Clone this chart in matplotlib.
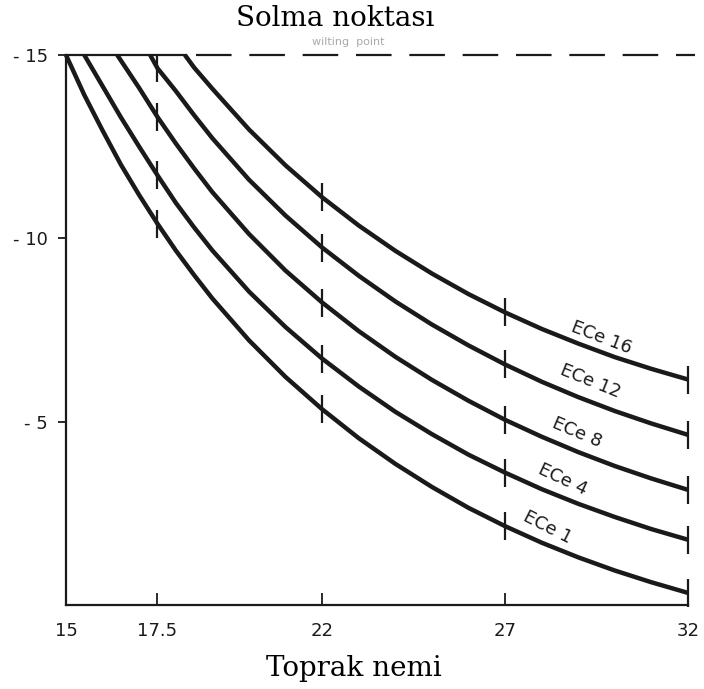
import matplotlib
matplotlib.use('Agg')
import matplotlib.pyplot as plt

# Toprak nemi (x) ve su potansiyeli (y)
ece1_x = [15, 15.5, 16, 16.5, 17, 17.5, 18, 18.5, 19, 20, 21, 22, 23, 24, 25, 26, 27, 28, 29, 30, 31, 32]
ece1_y = [-15, -13.91, -12.94, -12.01, -11.18, -10.4, -9.67, -9.0, -8.36, -7.22, -6.22, -5.34,
          -4.55, -3.85, -3.22, -2.65, -2.15, -1.7, -1.3, -0.94, -0.62, -0.33]

ece4_x = [15.5, 16, 16.5, 17, 17.5, 18, 18.5, 19, 20, 21, 22, 23, 24, 25, 26, 27, 28, 29, 30, 31, 32]
ece4_y = [-15, -14.15, -13.3, -12.5, -11.72, -10.97, -10.3, -9.67, -8.55, -7.58, -6.72, -5.96,
          -5.27, -4.66, -4.1, -3.61, -3.16, -2.76, -2.4, -2.07, -1.78]

ece8_x = [16.4, 17, 17.5, 18, 18.5, 19, 20, 21, 22, 23, 24, 25, 26, 27, 28, 29, 30, 31, 32]
ece8_y = [-15, -14.1, -13.31, -12.59, -11.91, -11.26, -10.12, -9.12, -8.25, -7.47, -6.77,
          -6.14, -5.57, -5.05, -4.59, -4.17, -3.79, -3.45, -3.14]

ece12_x = [17.3, 17.5, 18, 18.5, 19, 20, 21, 22, 23, 24, 25, 26, 27, 28, 29, 30, 31, 32]
ece12_y = [-15, -14.64, -14.02, -13.36, -12.73, -11.6, -10.62, -9.75, -8.98, -8.28, -7.65,
           -7.08, -6.56, -6.09, -5.67, -5.29, -4.95, -4.64]

ece16_x = [18.25, 18.5, 19, 20, 21, 22, 23, 24, 25, 26, 27, 28, 29, 30, 31, 32]
ece16_y = [-15, -14.66, -14.08, -12.97, -11.99, -11.12, -10.35, -9.66, -9.04, -8.48, -7.98,
           -7.53, -7.13, -6.76, -6.44, -6.15]

egriler = [("ECe 1", ece1_x, ece1_y), ("ECe 4", ece4_x, ece4_y), ("ECe 8", ece8_x, ece8_y),
           ("ECe 12", ece12_x, ece12_y), ("ECe 16", ece16_x, ece16_y)]

isaret_x = [17.5, 22, 27, 32]      # egriler uzerindeki kisa cizgiler
x_ticks = [15, 17.5, 22, 27, 32]
x_tick_labels = ["15", "17.5", "22", "27", "32"]
y_ticks = [-15, -10, -5]
y_tick_labels = ["- 15", "- 10", "- 5"]
solma_noktasi = -15

fig = plt.figure(figsize=(7.04, 6.89), dpi=100)
ax = fig.add_axes([66 / 704, 84 / 689, 622 / 704, 550 / 689])

for ad, xs, ys in egriler:
    ax.plot(xs, ys, color='#1a1a1a', lw=3.2, solid_capstyle='butt', solid_joinstyle='round',
            clip_on=False)
    mx = [x for x in xs if x in isaret_x]
    my = [y for x, y in zip(xs, ys) if x in isaret_x]
    ax.plot(mx, my, ls='none', marker='|', ms=20, mew=1.6, color='#1a1a1a', clip_on=False)

# solma noktasi cizgisi
tepe_x = [e[1][0] for e in egriler]
ax.plot([15, tepe_x[-1]], [solma_noktasi, solma_noktasi], color='#1a1a1a', lw=1.6, clip_on=False)
ax.plot([tepe_x[-1] + 0.3, 32.2], [solma_noktasi, solma_noktasi], color='#1a1a1a', lw=1.6,
        ls=(0, (16, 8)), clip_on=False)

# egri etiketleri
etiket_yer = {"ECe 16": (29.64, -7.3, -21), "ECe 12": (29.32, -6.09, -22),
              "ECe 8": (28.96, -4.7, -23), "ECe 4": (28.58, -3.42, -25),
              "ECe 1": (28.17, -2.13, -27)}
for ad, (tx, ty, rot) in etiket_yer.items():
    ax.text(tx, ty, ad, rotation=rot, ha='center', va='center', fontsize=13,
            color='#1a1a1a', rotation_mode='anchor')

ax.set_xlim(15, 32)
ax.set_ylim(0, -15)
ax.spines['top'].set_visible(False)
ax.spines['right'].set_visible(False)
ax.spines['left'].set_linewidth(1.6)
ax.spines['bottom'].set_linewidth(1.6)
ax.spines['left'].set_color('#1a1a1a')
ax.spines['bottom'].set_color('#1a1a1a')

ax.set_xticks(x_ticks)
ax.set_xticklabels(x_tick_labels, fontsize=13)
ax.set_yticks(y_ticks)
ax.set_yticklabels(y_tick_labels, fontsize=13)
ax.tick_params(axis='x', direction='in', length=9, width=1.3, pad=12, colors='#1a1a1a')
ax.tick_params(axis='y', direction='out', length=6, width=1.3, pad=7, colors='#1a1a1a')
ax.xaxis.get_majorticklines()[0].set_visible(False)

fig.text(312 / 704, 1 - 42 / 689, "wilting  point", fontsize=8, color='#aaaaaa',
         ha='left', va='center')
fig.text(335 / 704, 1 - 19 / 689, "Solma noktası", fontsize=20, family='DejaVu Serif',
         ha='center', va='center')
fig.text(354 / 704, 1 - 668 / 689, "Toprak nemi", fontsize=20, family='DejaVu Serif',
         ha='center', va='center')

fig.savefig('out.png', dpi=100)
